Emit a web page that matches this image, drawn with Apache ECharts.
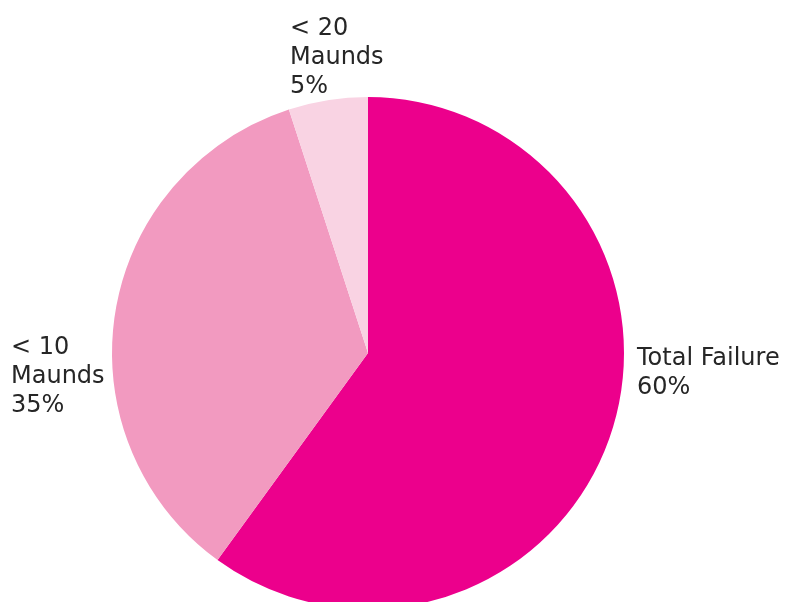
<!DOCTYPE html>
<html>
<head>
<meta charset="utf-8">
<script src="https://cdn.jsdelivr.net/npm/echarts@6/dist/echarts.min.js"></script>
<style>
  html, body { margin: 0; padding: 0; background: #fff; }
  #chart { width: 785px; height: 602px; }
</style>
</head>
<body>
<div id="chart"></div>
<script>
var categories = ['Total Failure', '< 10\nMaunds', '< 20\nMaunds'];
var shares = [60, 35, 5];
var colors = ['#EC008C', '#F29AC0', '#F9D3E3'];

// where each label block sits (left edge, vertical middle)
var labelSpots = [
    { x: 637, y: 373 },
    { x: 11, y: 377 },
    { x: 290, y: 58 }
];

var chart = echarts.init(document.getElementById('chart'));

var pieData = [];
for (var i = 0; i < categories.length; i++) {
    pieData.push({ name: categories[i], value: shares[i], itemStyle: { color: colors[i] } });
}

chart.setOption({
    animation: false,
    series: [{
        type: 'pie',
        center: [368, 353],
        radius: 256,
        startAngle: 90,
        clockwise: true,
        silent: true,
        itemStyle: { borderWidth: 0 },
        label: {
            show: true,
            position: 'outside',
            formatter: function (p) { return p.name + '\n' + p.value + '%'; },
            fontFamily: 'DejaVu Sans',
            fontSize: 24,
            lineHeight: 29,
            color: '#262626',
            align: 'left',
            overflow: 'none'
        },
        labelLine: { show: false },
        labelLayout: function (p) {
            var s = labelSpots[p.dataIndex];
            return { x: s.x, y: s.y, align: 'left', verticalAlign: 'middle', width: 200 };
        },
        data: pieData
    }]
});
</script>
</body>
</html>
